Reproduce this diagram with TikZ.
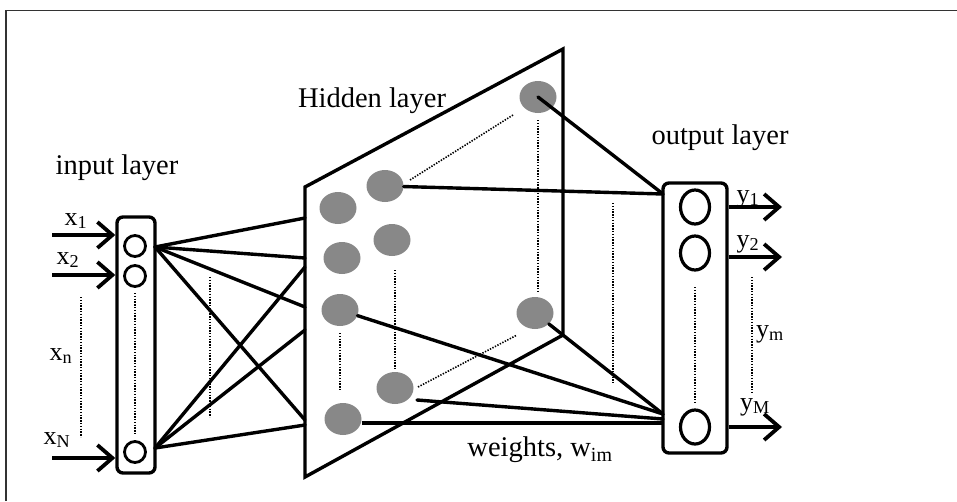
\documentclass[tikz,border=0pt]{standalone}
\usepackage{fontspec}
\setmainfont{Liberation Serif}
\usetikzlibrary{arrows.meta,shapes.geometric}
\definecolor{hidgray}{HTML}{888888}
\definecolor{framegray}{HTML}{333333}
\begin{document}
\begin{tikzpicture}[x=1pt,y=-1pt,
  thickline/.style={line width=3.4pt},
  wire/.style={line width=3.4pt, line cap=round},
  hid/.style={ellipse, fill=hidgray, minimum width=37pt, minimum height=32pt, inner sep=0pt},
  inc/.style={ellipse, draw, line width=2.8pt, minimum width=21pt, minimum height=21pt, inner sep=0pt},
  outc/.style={ellipse, draw, line width=3.2pt, minimum width=29pt, minimum height=34pt, inner sep=0pt},
  dotln/.style={line width=1.6pt, dash pattern=on 1.4pt off 1.4pt},
  lab/.style={font=\fontsize{28.5}{30}\selectfont, inner sep=0pt},
  sublab/.style={font=\fontsize{26}{28}\selectfont, inner sep=0pt},
  arr/.style={line width=3.8pt, -{Straight Barb[length=15pt,width=26pt]}}]
\path[use as bounding box] (0,0) rectangle (957,501);
\draw[line width=1.5pt, framegray] (6,501) -- (6,10.5) -- (957,10.5);

% input layer
\node[draw, thickline, rounded corners=6pt, minimum width=38pt, minimum height=256pt] (inbox) at (136,345) {};
\node[inc] (i1) at (135,246) {};
\node[inc] (i2) at (135,276) {};
\node[inc] (iN) at (135,452) {};
\draw[dotln] (135,293) -- (135,435);
\coordinate (a1) at (155,247);
\coordinate (aN) at (155,448);
\coordinate (ax1) at (52,235);
\coordinate (ax2) at (52,275);
\coordinate (axN) at (52,458);
\draw[arr] (ax1) -- (inbox.west |- ax1);
\draw[arr] (ax2) -- (inbox.west |- ax2);
\draw[arr] (axN) -- (inbox.west |- axN);
\node[sublab] (lx1) at (76,221) {x\textsubscript{1}};
\node[sublab] (lx2) at (68,260) {x\textsubscript{2}};
\node[sublab] (lxn) at (61,356) {x\textsubscript{n}};
\node[sublab] (lxN) at (57,440) {x\textsubscript{N}};
\draw[dotln] (81,297) -- (81,437);
\node[lab] (tin) at (117,168) {input layer};

% hidden layer plane
\coordinate (tl) at (305,187);
\coordinate (tr) at (563,49);
\coordinate (br) at (563,335);
\coordinate (bl) at (305,477);
\draw[thickline, line join=miter] (tl) -- (tr) -- (br) -- (bl) -- cycle;
\node[lab] (thid) at (372,101) {Hidden layer};

\node[hid] (n1) at (338,208) {};
\node[hid] (n2) at (342,258) {};
\node[hid] (n3) at (340,310) {};
\node[hid] (n4) at (343,419) {};
\node[hid] (m1) at (385,186) {};
\node[hid] (m2) at (392,240) {};
\node[hid] (m3) at (395,388) {};
\node[hid] (r1) at (538,97) {};
\node[hid] (r2) at (535,313) {};

\draw[dotln] (340,333) -- (340,390);
\draw[dotln] (395,270) -- (395,370);
\draw[dotln] (538,120) -- (538,293);
\draw[dotln] (410,180) -- (513,115);
\draw[dotln] (418,387) -- (517,335);
\draw[dotln] (210,277) -- (210,417);
\draw[dotln] (613,203) -- (613,383);

% input -> hidden
\coordinate (h1) at (305,218);
\coordinate (h2) at (305,258);
\coordinate (h3) at (305,307);
\coordinate (h4) at (305,420);
\coordinate (h5) at (305,267);
\coordinate (h6) at (305,330);
\coordinate (h7) at (305,425);
\foreach \t in {h1,h2,h3,h4} \draw[wire] (a1) -- (\t);
\foreach \t in {h5,h6,h7} \draw[wire] (aN) -- (\t);

% output layer
\node[draw, thickline, rounded corners=6pt, minimum width=64pt, minimum height=270pt] (outbox) at (695,318) {};
\node[outc] (o1) at (695,207) {};
\node[outc] (o2) at (695,253) {};
\node[outc] (oM) at (695,427) {};
\draw[dotln] (695,287) -- (695,403);
\node[lab] (tout) at (720,138) {output layer};

\coordinate (q1) at (663,194);
\coordinate (q2) at (663,414);
\coordinate (q3) at (663,419);
\coordinate (q4) at (663,423);
\draw[wire] (m1) -- (q1);
\draw[wire] (r1.center) -- (q1);
\draw[wire] (r2) -- (q2);
\draw[wire] (n3) -- (q2);
\draw[wire] ([shift={(22,12)}]m3.center) -- (q3);
\draw[line width=4.4pt] (n4.east |- q4) -- (q4);

\coordinate (yy1) at (782,207);
\coordinate (yy2) at (782,257);
\coordinate (yyM) at (782,427);
\draw[arr] (outbox.east |- yy1) -- (yy1);
\draw[arr] (outbox.east |- yy2) -- (yy2);
\draw[arr] (outbox.east |- yyM) -- (yyM);
\node[sublab] (ly1) at (748,199) {y\textsubscript{1}};
\node[sublab] (ly2) at (748,244) {y\textsubscript{2}};
\node[sublab] (lym) at (770,334) {y\textsubscript{m}};
\node[sublab] (lyM) at (755,407) {y\textsubscript{M}};
\draw[dotln] (752,277) -- (752,393);

\node[lab] (tw) at (540,450) {weights, w\textsubscript{im}};
\end{tikzpicture}
\end{document}
